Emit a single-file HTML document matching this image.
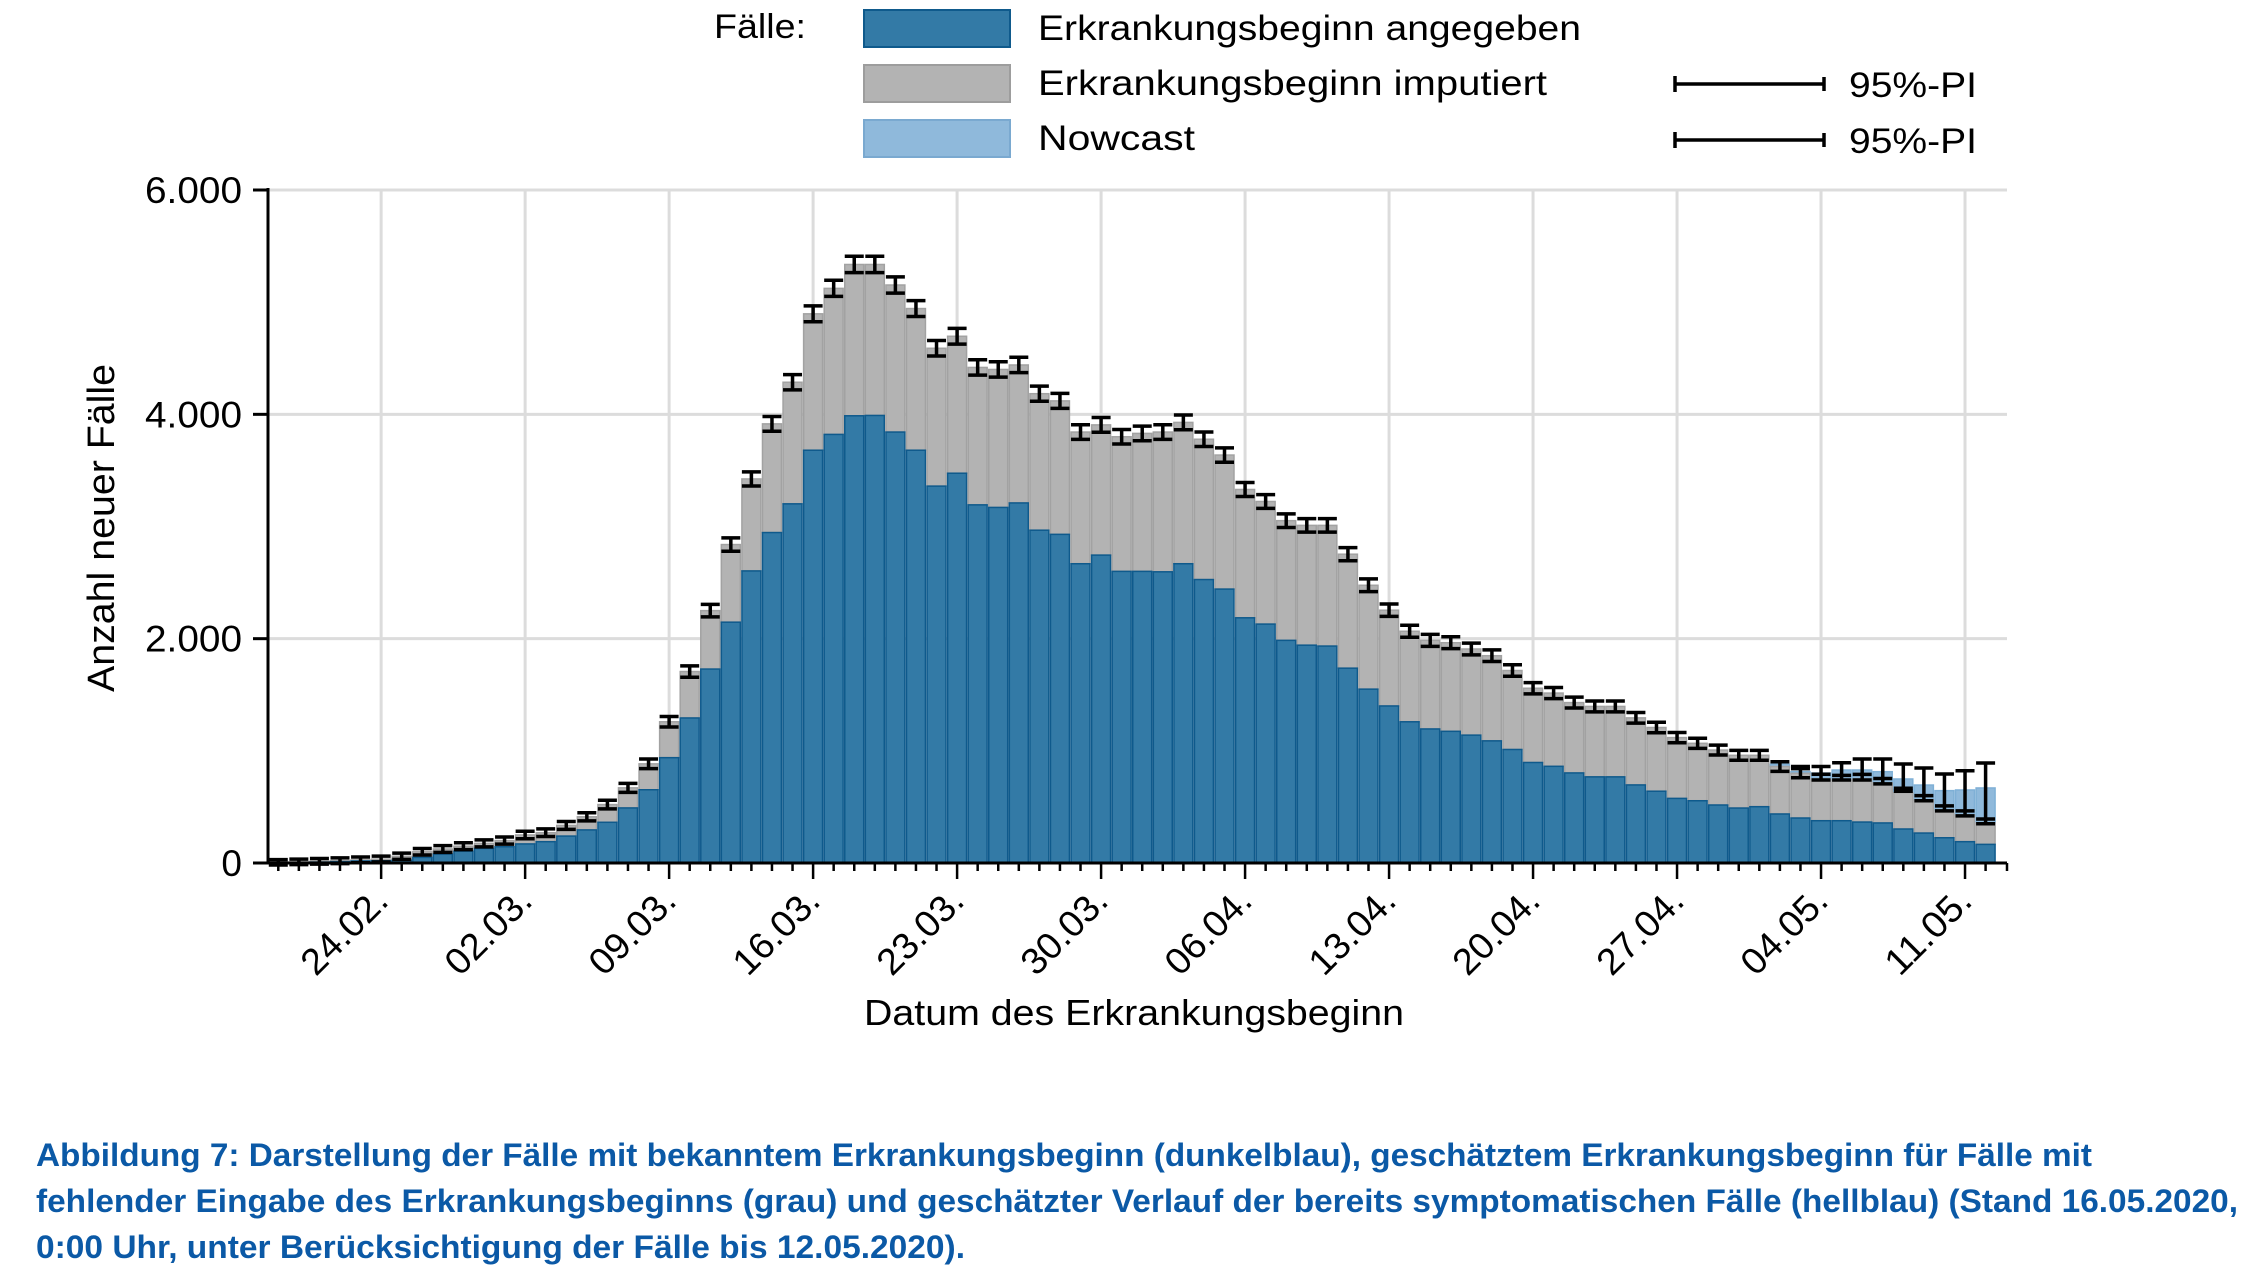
<!DOCTYPE html>
<html><head><meta charset="utf-8">
<style>html,body{margin:0;padding:0;background:#fff;}svg{display:block;}</style>
</head><body>
<svg id="s" width="2258" height="1280" xmlns="http://www.w3.org/2000/svg" font-family="Liberation Sans, Arial, sans-serif">
<rect width="2258" height="1280" fill="#fff"/>
<g id="grid"></g>
<g id="bars"></g>
<g id="err"></g>
<g id="axes"></g>
<!-- legend -->
<text x="714" y="38" font-size="34" textLength="92" lengthAdjust="spacingAndGlyphs">Fälle:</text>
<rect x="864" y="10" width="146" height="37" fill="#337aa6" stroke="#0f5a8c" stroke-width="2"/>
<rect x="864" y="65" width="146" height="37" fill="#b3b3b3" stroke="#9d9d9d" stroke-width="2"/>
<rect x="864" y="120" width="146" height="37" fill="#8fb9db" stroke="#7aa9d0" stroke-width="2"/>
<text x="1038" y="40" font-size="35" textLength="543" lengthAdjust="spacingAndGlyphs">Erkrankungsbeginn angegeben</text>
<text x="1038" y="95" font-size="35" textLength="509" lengthAdjust="spacingAndGlyphs">Erkrankungsbeginn imputiert</text>
<text x="1038" y="150" font-size="35" textLength="157" lengthAdjust="spacingAndGlyphs">Nowcast</text>
<g stroke="#000" stroke-width="3.5">
<line x1="1675" y1="84" x2="1824" y2="84"/><line x1="1675" y1="76" x2="1675" y2="92"/><line x1="1824" y1="77" x2="1824" y2="91"/>
<line x1="1675" y1="140" x2="1824" y2="140"/><line x1="1675" y1="132" x2="1675" y2="148"/><line x1="1824" y1="133" x2="1824" y2="147"/>
</g>
<text x="1849" y="97" font-size="35" textLength="128" lengthAdjust="spacingAndGlyphs">95%-PI</text>
<text x="1849" y="153" font-size="35" textLength="128" lengthAdjust="spacingAndGlyphs">95%-PI</text>
<!-- axis titles -->
<text x="864" y="1025" font-size="36" textLength="540" lengthAdjust="spacingAndGlyphs">Datum des Erkrankungsbeginn</text>
<text transform="translate(114,692) rotate(-90)" font-size="38" textLength="328" lengthAdjust="spacingAndGlyphs">Anzahl neuer Fälle</text>
<!-- caption -->
<g font-weight="bold" fill="#0b59a6" font-size="32">
<text x="36" y="1166" textLength="2056" lengthAdjust="spacingAndGlyphs">Abbildung 7: Darstellung der Fälle mit bekanntem Erkrankungsbeginn (dunkelblau), geschätztem Erkrankungsbeginn für Fälle mit</text>
<text x="36" y="1212" textLength="2202" lengthAdjust="spacingAndGlyphs">fehlender Eingabe des Erkrankungsbeginns (grau) und geschätzter Verlauf der bereits symptomatischen Fälle (hellblau) (Stand 16.05.2020,</text>
<text x="36" y="1258" textLength="929" lengthAdjust="spacingAndGlyphs">0:00 Uhr, unter Berücksichtigung der Fälle bis 12.05.2020).</text>
</g>
</svg>
<script>
(function(){
var NS="http://www.w3.org/2000/svg";
function el(p,t,a){var e=document.createElementNS(NS,t);for(var k in a)e.setAttribute(k,a[k]);p.appendChild(e);return e;}
var Y0=863, PX=673/6000, X0=268, BW=20.57, XR=2007;
function y(v){return Y0-v*PX;}
var d=[[3,6],[5,10],[8,15],[12,20],[18,28],[20,35],[25,60],[50,100],[80,125],[105,150],[130,175],[145,200],[170,250],[190,270],[240,335],[295,412],
[363,521],[491,670],[653,884],[939,1259],[1293,1707],[1729,2250],[2147,2839],[2604,3424],[2946,3915],[3202,4286],[3680,4896],[3821,5123],[3987,5336],[3990,5336],
[3842,5153],[3680,4943],[3360,4589],[3475,4696],[3193,4418],[3170,4400],[3210,4440],[2967,4184],[2930,4120],[2668,3842],[2745,3906],[2600,3800],[2600,3830],
[2596,3842],[2668,3928],[2527,3778],[2442,3637],[2186,3330],[2130,3223],[1985,3052],[1942,3010],[1934,3010],[1737,2753],[1550,2476],[1400,2254],[1259,2066],
[1195,1985],[1174,1964],[1140,1908],[1089,1848],[1012,1716],[896,1558],[862,1515],[803,1430],[768,1396],[768,1396],[696,1294],[640,1208],[576,1118],[555,1067],
[517,1007],[490,960],[502,960],[437,860],[401,800],[377,750],[377,740],[365,749],[357,713],[303,627],[267,562],[225,472],[190,428],[166,357]];
var nc={73:880,74:815,75:802,76:829,77:829,78:814,79:749,80:695,81:645,82:651,83:669};
var eh={74:[860,760],75:[860,740],76:[894,740],77:[927,740],78:[927,705],79:[883,640],80:[847,555],81:[793,465],82:[822,420],83:[891,350]};
var grid=document.getElementById('grid'),bars=document.getElementById('bars'),err=document.getElementById('err'),ax=document.getElementById('axes');
[2000,4000,6000].forEach(function(v){el(grid,'line',{x1:X0,x2:XR,y1:y(v),y2:y(v),stroke:'#dcdcdc','stroke-width':3});});
var labels=['24.02.','02.03.','09.03.','16.03.','23.03.','30.03.','06.04.','13.04.','20.04.','27.04.','04.05.','11.05.'];
for(var k=0;k<12;k++){var gx=X0+BW*(5+7*k)+BW/2;el(grid,'line',{x1:gx,x2:gx,y1:y(6000),y2:Y0,stroke:'#dcdcdc','stroke-width':3});
 var tx=el(ax,'text',{transform:'translate('+(gx+9)+',903) rotate(-45)','text-anchor':'end','font-size':37,textLength:105,lengthAdjust:'spacingAndGlyphs'});tx.textContent=labels[k];}
var n=d.length;
for(var i=0;i<n;i++){
 var x=X0+BW*i, bb=d[i][0], tt=d[i][1];
 if(nc[i]!==undefined && nc[i]>tt) el(bars,'rect',{x:x+0.8,y:y(nc[i]),width:BW-1.6,height:y(tt)-y(nc[i]),fill:'#8fb9db',stroke:'#7fb0d6','stroke-width':1.5});
 el(bars,'rect',{x:x+0.8,y:y(tt),width:BW-1.6,height:y(bb)-y(tt),fill:'#b3b3b3',stroke:'#a2a2a2','stroke-width':1.5});
 el(bars,'rect',{x:x+0.8,y:y(bb),width:BW-1.6,height:Y0-y(bb),fill:'#337aa6',stroke:'#0f5a8c','stroke-width':1.5});
 var cx=x+BW/2, hi, lo, gh=2.5+5.5*Math.sqrt(tt/5000);
 if(eh[i]){hi=y(eh[i][0]);lo=y(eh[i][1]);}
 else{hi=y(tt)-gh;lo=y(tt)+gh;}
 var g=el(err,'g',{stroke:'#000','stroke-width':3.5});
 el(g,'line',{x1:cx,x2:cx,y1:hi,y2:lo});
 el(g,'line',{x1:cx-9.5,x2:cx+9.5,y1:hi,y2:hi});
 el(g,'line',{x1:cx-9.5,x2:cx+9.5,y1:lo,y2:lo});
 if(eh[i]){el(g,'line',{x1:cx-9.5,x2:cx+9.5,y1:y(tt)-gh,y2:y(tt)-gh});}
}
el(ax,'line',{x1:X0,x2:X0,y1:y(6000)-2,y2:Y0+1,stroke:'#000','stroke-width':3});
el(ax,'line',{x1:X0-15,x2:XR,y1:Y0,y2:Y0,stroke:'#000','stroke-width':3});
for(var i=0;i<n;i++){var cx=X0+BW*i+BW/2;var maj=((i-5)%7===0);el(ax,'line',{x1:cx,x2:cx,y1:Y0,y2:Y0+(maj?16:8),stroke:'#000','stroke-width':2.5});}
el(ax,'line',{x1:XR,x2:XR,y1:Y0,y2:Y0+8,stroke:'#000','stroke-width':2.5});
[0,2000,4000,6000].forEach(function(v){el(ax,'line',{x1:X0-15,x2:X0,y1:y(v),y2:y(v),stroke:'#000','stroke-width':3});
 var s=v===0?'0':(v/1000)+'.000';var tt2=el(ax,'text',{x:242,y:y(v)+13,'text-anchor':'end','font-size':37});
 if(v){tt2.setAttribute('textLength',97);tt2.setAttribute('lengthAdjust','spacingAndGlyphs');}
 tt2.textContent=s;});
})();
</script>
</body></html>
